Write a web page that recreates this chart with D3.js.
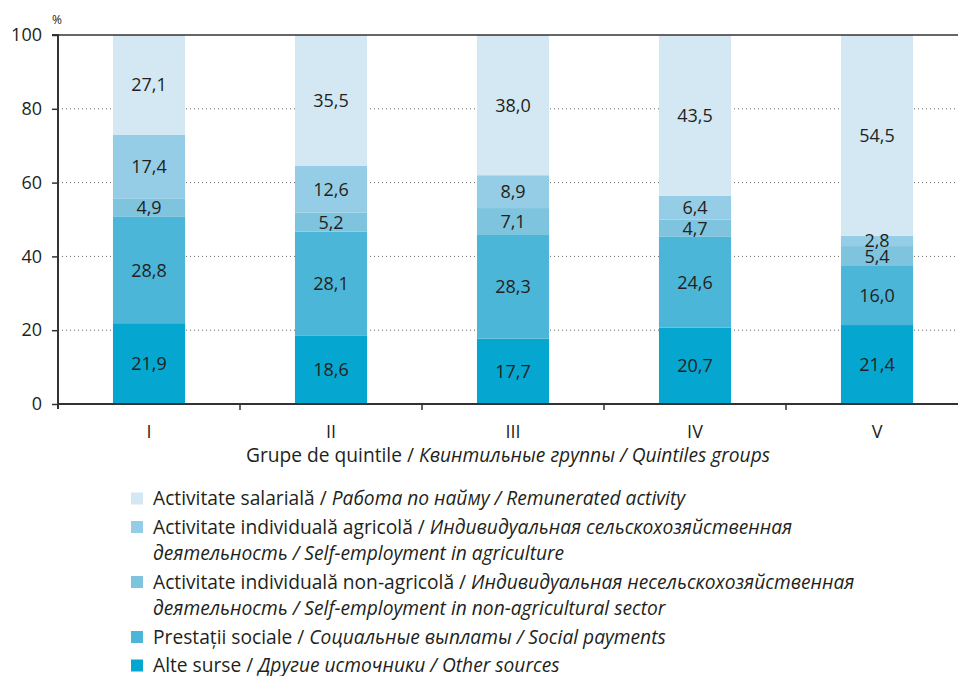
<!DOCTYPE html>
<html><head><meta charset="utf-8">
<script src="https://cdn.jsdelivr.net/npm/d3@7"></script>
<style>
html,body{margin:0;padding:0;background:#fff;}
svg{display:block;font-family:"Open Sans",sans-serif;}
</style></head>
<body>
<svg id="chart" width="958" height="676"></svg>
<script>
const categories = ["I","II","III","IV","V"];
const seriesKeys = ["alte","prestatii","nonagri","agri","salariala"];
const alte      = [21.9, 18.6, 17.7, 20.7, 21.4];
const prestatii = [28.8, 28.1, 28.3, 24.6, 16.0];
const nonagri   = [4.9, 5.2, 7.1, 4.7, 5.4];
const agri      = [17.4, 12.6, 8.9, 6.4, 2.8];
const salariala = [27.1, 35.5, 38.0, 43.5, 54.5];
const yTicks = [0, 20, 40, 60, 80, 100];
const colors = ["#05a7d0", "#4cb6d9", "#7fc4de", "#95cde6", "#d3e8f3"];
const xTitle = ["Grupe de quintile / ", "Квинтильные группы / Quintiles groups"];
// legend, top to bottom
const legendSeries = [4, 3, 2, 1, 0];
const legendRo = ["Activitate salarială", "Activitate individuală agricolă", "Activitate individuală non-agricolă", "Prestații sociale", "Alte surse"];
const legendRu = ["Работа по найму", "Индивидуальная сельскохозяйственная деятельность", "Индивидуальная несельскохозяйственная деятельность", "Социальные выплаты", "Другие источники"];
const legendEn = ["Remunerated activity", "Self-employment in agriculture", "Self-employment in non-agricultural sector", "Social payments", "Other sources"];

const seriesValues = [alte, prestatii, nonagri, agri, salariala];
const data = categories.map((c, i) => {
  const o = {cat: c};
  seriesKeys.forEach((k, j) => o[k] = seriesValues[j][i]);
  return o;
});

const svg = d3.select("#chart");
const pLeft = 58, pRight = 968, pTop = 35, pBottom = 404;
const x = d3.scaleBand().domain(categories).range([pLeft, pRight]).paddingInner(0.604).paddingOuter(0.302);
const y = d3.scaleLinear().domain([0, 100]).range([pBottom, pTop]);
const textColor = "#231f20";

svg.append("g").selectAll("line").data(yTicks.filter(t => t > 0 && t < 100)).join("line")
  .attr("x1", pLeft).attr("x2", 958).attr("y1", d => y(d)).attr("y2", d => y(d))
  .attr("stroke", "#666").attr("stroke-width", 1).attr("stroke-dasharray", "1,3");

const stacked = d3.stack().keys(seriesKeys)(data);

const g = svg.append("g");
stacked.forEach((layer, j) => {
  g.append("g").selectAll("rect").data(layer).join("rect")
    .attr("x", d => x(d.data.cat))
    .attr("width", x.bandwidth())
    .attr("y", d => y(Math.min(100, d[1])))
    .attr("height", d => y(d[0]) - y(Math.min(100, d[1])))
    .attr("fill", colors[j]);
});
stacked.forEach((layer, j) => {
  g.append("g").selectAll("text").data(layer).join("text")
    .attr("x", d => x(d.data.cat) + x.bandwidth() / 2)
    .attr("y", d => y((d[0] + Math.min(100, d[1])) / 2))
    .attr("dy", "0.36em")
    .attr("text-anchor", "middle")
    .attr("font-size", 18)
    .attr("fill", textColor)
    .text(d => d3.format(".1f")(d[1] - d[0]).replace(".", ","));
});

svg.append("line").attr("x1", pLeft).attr("x2", 958).attr("y1", y(100)).attr("y2", y(100))
  .attr("stroke", "#333").attr("stroke-width", 1.5);

const yAxis = d3.axisLeft(y).tickValues(yTicks).tickSize(6).tickPadding(10);
const ya = svg.append("g").attr("transform", `translate(${pLeft},0)`).call(yAxis);
ya.select(".domain").attr("stroke", "#333").attr("stroke-width", 2).attr("d", `M-6,${pTop}H0V${pBottom + 5}`);
ya.selectAll(".tick line").attr("stroke", "#333").attr("stroke-width", 1.5);
ya.selectAll(".tick text").attr("font-size", 18).attr("fill", textColor).attr("font-family", "Open Sans");

svg.append("line").attr("x1", pLeft).attr("x2", 958).attr("y1", pBottom).attr("y2", pBottom)
  .attr("stroke", "#333").attr("stroke-width", 2);
const boundaries = categories.slice(1).map(c => x(c) - x.step() * x.paddingInner() / 2);
svg.append("g").selectAll("line").data(boundaries).join("line")
  .attr("x1", d => d).attr("x2", d => d).attr("y1", pBottom).attr("y2", pBottom + 6)
  .attr("stroke", "#333").attr("stroke-width", 1.5);
svg.append("g").selectAll("text").data(categories).join("text")
  .attr("x", d => x(d) + x.bandwidth() / 2).attr("y", 438)
  .attr("text-anchor", "middle").attr("font-size", 18).attr("fill", textColor).text(d => d);

svg.append("text").attr("x", 52).attr("y", 24).attr("font-size", 12).attr("fill", textColor).text("%");

const xt = svg.append("text").attr("x", 508).attr("y", 462).attr("text-anchor", "middle")
  .attr("font-size", 19.2).attr("fill", textColor).style("white-space", "pre");
xt.append("tspan").text(xTitle[0]);
xt.append("tspan").attr("font-style", "italic").text(xTitle[1]);

const fs = 19.2, lx = 153, maxW = 720, lineH = 26.5, entryH = 28.5;
let ly = 505;
const measure = svg.append("text").attr("font-size", fs).attr("visibility", "hidden").style("white-space", "pre");
function tw(str, italic) {
  measure.attr("font-style", italic ? "italic" : "normal").text(str);
  return measure.node().getComputedTextLength();
}
legendSeries.forEach((si, idx) => {
  const tokens = [];
  legendRo[idx].split(" ").forEach(w => tokens.push({w, it: false}));
  tokens.push({w: "/", it: false});
  (legendRu[idx] + " / " + legendEn[idx]).split(" ").forEach(w => tokens.push({w, it: true}));
  const lines = [[]];
  let cur = 0;
  tokens.forEach(t => {
    const add = tw((lines[lines.length - 1].length ? " " : "") + t.w, t.it);
    if (cur + add > maxW && lines[lines.length - 1].length) { lines.push([]); cur = tw(t.w, t.it); }
    else cur += add;
    lines[lines.length - 1].push(t);
  });
  svg.append("rect").attr("x", 131).attr("y", ly - 12.5).attr("width", 12).attr("height", 12).attr("fill", colors[si]);
  lines.forEach((ln, li) => {
    const t = svg.append("text").attr("x", lx).attr("y", ly + li * lineH).attr("font-size", fs)
      .attr("fill", textColor).style("white-space", "pre");
    const groups = [];
    ln.forEach((tok, k) => {
      const w = (k ? " " : "") + tok.w;
      if (groups.length && groups[groups.length - 1].it === tok.it) groups[groups.length - 1].s += w;
      else groups.push({s: w, it: tok.it});
    });
    groups.forEach(gp => t.append("tspan").attr("font-style", gp.it ? "italic" : "normal").text(gp.s));
  });
  ly += (lines.length - 1) * lineH + entryH;
});
measure.remove();
</script>
</body></html>
